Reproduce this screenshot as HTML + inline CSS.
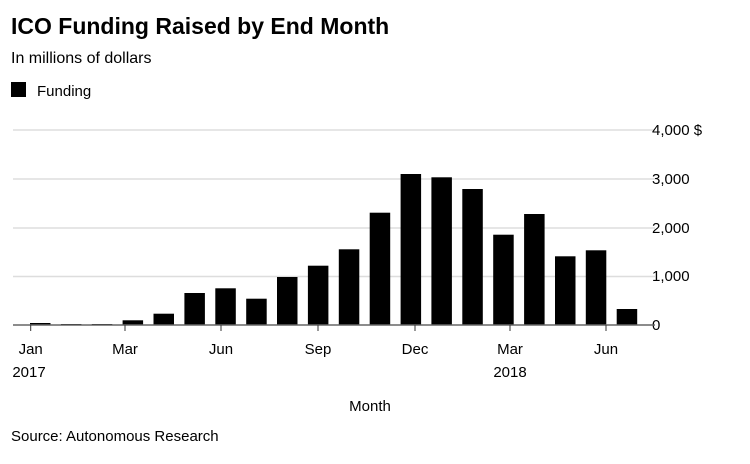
<!DOCTYPE html>
<html><head><meta charset="utf-8"><style>
body{margin:0;background:#fff;}
svg text{font-family:"Liberation Sans",sans-serif;}
</style></head><body>
<svg width="750" height="459" xmlns="http://www.w3.org/2000/svg">
<rect width="750" height="459" fill="#fff"/>
<text x="11" y="34" font-size="23" font-weight="bold" fill="#000">ICO Funding Raised by End Month</text>
<text x="11" y="63" font-size="16" fill="#000">In millions of dollars</text>
<rect x="11" y="82" width="15" height="15" fill="#000"/>
<text x="37" y="96" font-size="15" fill="#000">Funding</text>
<g stroke="#ddd" stroke-width="1.5">
<line x1="13" y1="130" x2="655" y2="130"/>
<line x1="13" y1="179" x2="655" y2="179"/>
<line x1="13" y1="228" x2="655" y2="228"/>
<line x1="13" y1="276.5" x2="655" y2="276.5"/>
</g>
<g font-size="15" fill="#000">
<text x="652" y="135">4,000 $</text>
<text x="652" y="184">3,000</text>
<text x="652" y="233">2,000</text>
<text x="652" y="281">1,000</text>
<text x="652" y="330">0</text>
</g>
<g fill="#000">
<rect x="30" y="323" width="20.5" height="2"/>
<rect x="60.9" y="324" width="20.5" height="1"/>
<rect x="91.8" y="324" width="20.5" height="1"/>
<rect x="122.6" y="320.3" width="20.5" height="4.7"/>
<rect x="153.5" y="313.7" width="20.5" height="11.3"/>
<rect x="184.4" y="293" width="20.5" height="32"/>
<rect x="215.3" y="288.3" width="20.5" height="36.7"/>
<rect x="246.2" y="298.7" width="20.5" height="26.3"/>
<rect x="277" y="277" width="20.5" height="48"/>
<rect x="307.9" y="265.7" width="20.5" height="59.3"/>
<rect x="338.8" y="249.3" width="20.5" height="75.7"/>
<rect x="369.7" y="212.7" width="20.5" height="112.3"/>
<rect x="400.6" y="174" width="20.5" height="151"/>
<rect x="431.4" y="177.3" width="20.5" height="147.7"/>
<rect x="462.3" y="189" width="20.5" height="136"/>
<rect x="493.2" y="234.7" width="20.5" height="90.3"/>
<rect x="524.1" y="214" width="20.5" height="111"/>
<rect x="555" y="256.3" width="20.5" height="68.7"/>
<rect x="585.8" y="250.3" width="20.5" height="74.7"/>
<rect x="616.7" y="309" width="20.5" height="16"/>
</g>
<line x1="13" y1="325" x2="655" y2="325" stroke="#666" stroke-width="1.5"/>
<g stroke="#333" stroke-width="1">
<line x1="30.7" y1="325" x2="30.7" y2="331"/>
<line x1="125" y1="325" x2="125" y2="331"/>
<line x1="221" y1="325" x2="221" y2="331"/>
<line x1="318" y1="325" x2="318" y2="331"/>
<line x1="415" y1="325" x2="415" y2="331"/>
<line x1="510" y1="325" x2="510" y2="331"/>
<line x1="606" y1="325" x2="606" y2="331"/>
</g>
<g font-size="15" fill="#000" text-anchor="middle">
<text x="30.7" y="354">Jan</text>
<text x="29" y="377">2017</text>
<text x="125" y="354">Mar</text>
<text x="221" y="354">Jun</text>
<text x="318" y="354">Sep</text>
<text x="415" y="354">Dec</text>
<text x="510" y="354">Mar</text>
<text x="510" y="377">2018</text>
<text x="606" y="354">Jun</text>
<text x="370" y="411">Month</text>
</g>
<text x="11" y="441" font-size="15" fill="#000">Source: Autonomous Research</text>
</svg>
</body></html>
